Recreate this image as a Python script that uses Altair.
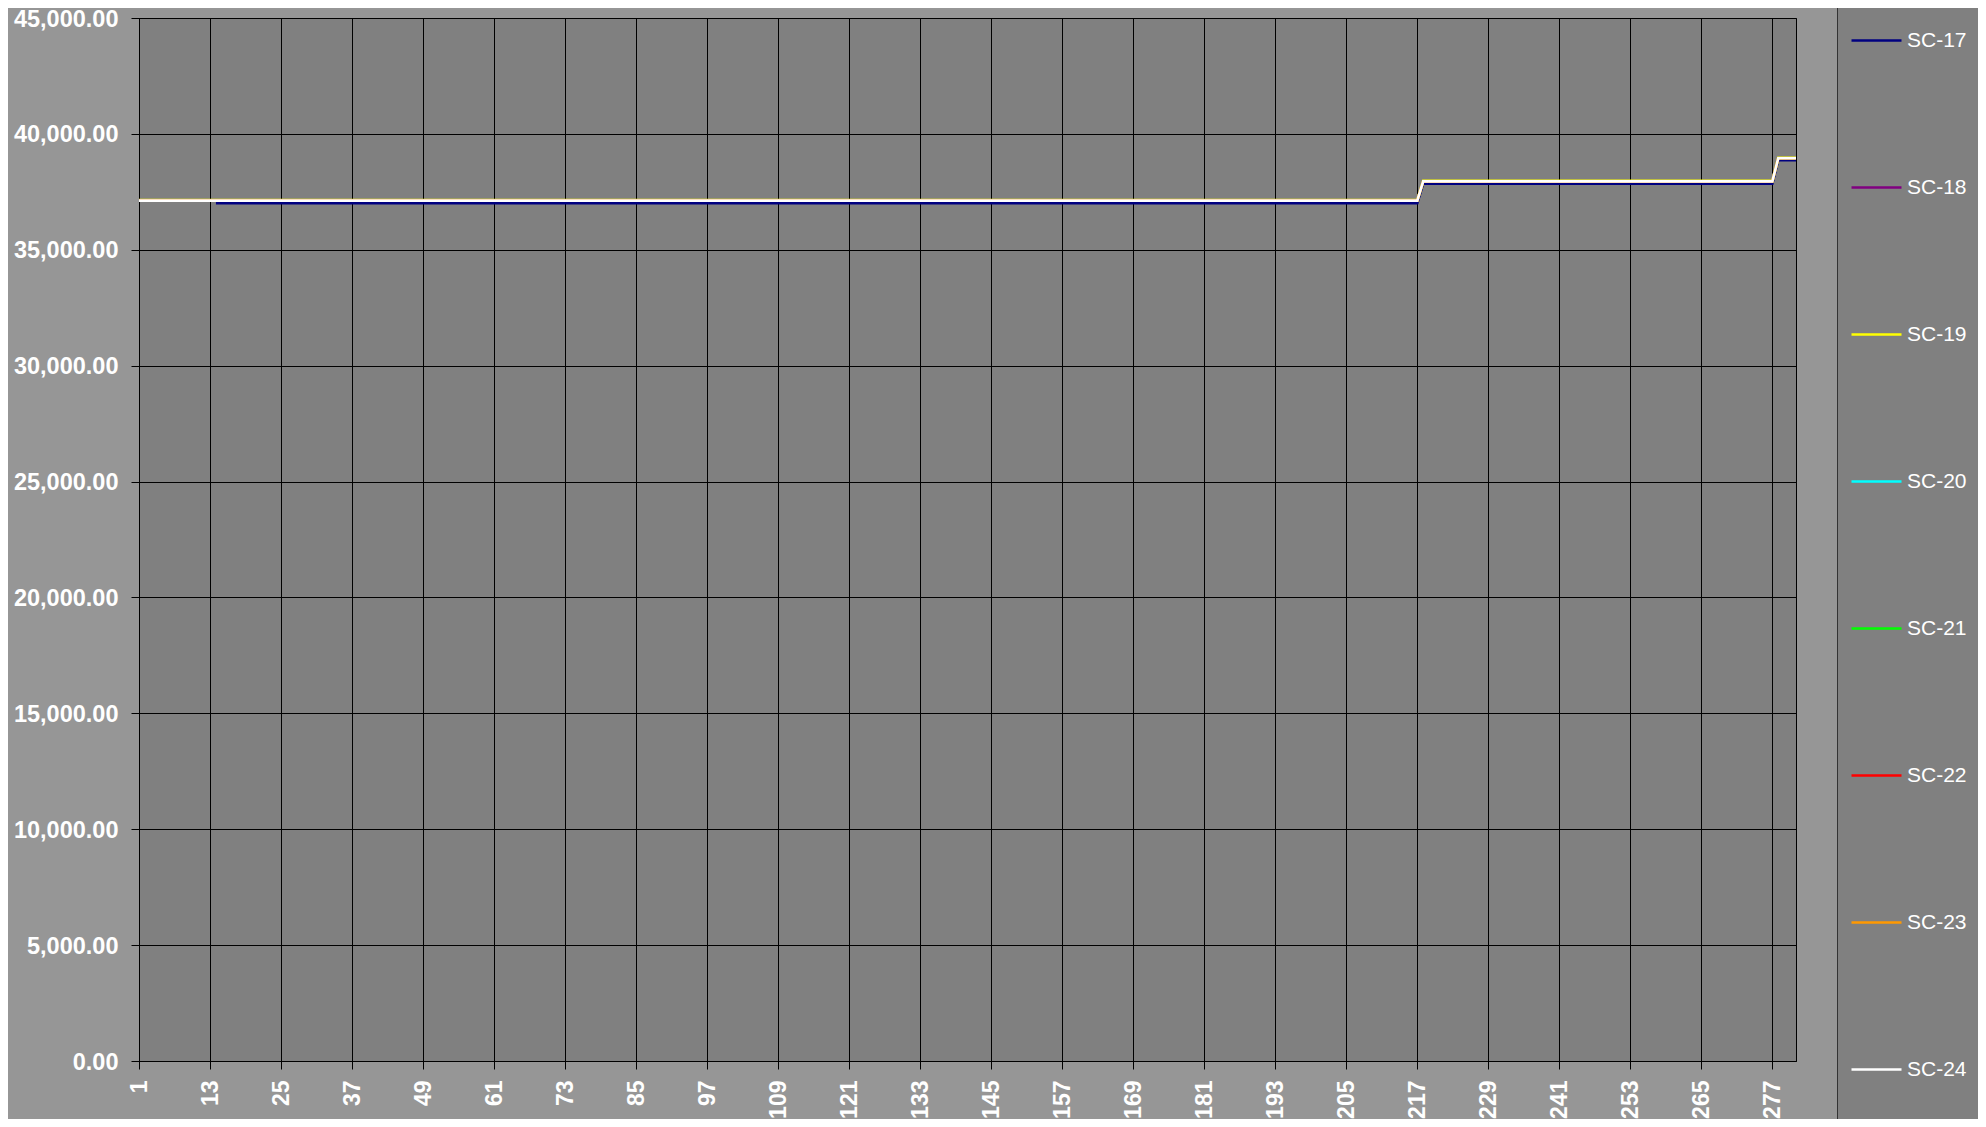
import altair as alt
import pandas as pd

# ---- data ----
series_names = ["SC-17", "SC-18", "SC-19", "SC-20", "SC-21", "SC-22", "SC-23", "SC-24"]
series_colors = ["#000080", "#800080", "#FFFF00", "#00FFFF", "#00FF00", "#FF0000", "#FF9900", "#FFFFFF"]

# break points of the step-shaped series (x = sample index)
x_main = [1, 217, 218, 277, 278, 281]
x_sc17 = [14, 217, 218, 277, 278, 281]

sc17 = [37010, 37010, 37850, 37850, 38870, 38870]
sc18 = [37120, 37120, 37950, 37950, 38950, 38950]
sc19 = [37140, 37140, 37970, 37970, 38970, 38970]
sc20 = [37120, 37120, 37950, 37950, 38950, 38950]
sc21 = [37120, 37120, 37950, 37950, 38950, 38950]
sc22 = [37120, 37120, 37950, 37950, 38950, 38950]
sc23 = [37120, 37120, 37950, 37950, 38950, 38950]
sc24 = [37120, 37120, 37950, 37950, 38950, 38950]

x_ticks = [1, 13, 25, 37, 49, 61, 73, 85, 97, 109, 121, 133, 145, 157, 169,
           181, 193, 205, 217, 229, 241, 253, 265, 277]
y_ticks = [0, 5000, 10000, 15000, 20000, 25000, 30000, 35000, 40000, 45000]

series_values = [sc17, sc18, sc19, sc20, sc21, sc22, sc23, sc24]
series_x = [x_sc17] + [x_main] * 7

rows = []
for name, xs, ys in zip(series_names, series_x, series_values):
    for xv, yv in zip(xs, ys):
        rows.append({"idx": xv, "value": yv, "series": name})
df = pd.DataFrame(rows)

FONT = "Liberation Sans"

chart = (
    alt.Chart(df)
    .mark_line(strokeWidth=2.7, strokeJoin="miter")
    .encode(
        x=alt.X(
            "idx:Q",
            scale=alt.Scale(domain=[1, 281], nice=False, zero=False),
            axis=alt.Axis(
                values=x_ticks,
                title=None,
                labelAngle=270,
                labelFontSize=23,
                labelFontWeight="bold",
                labelColor="white",
                labelPadding=11,
                labelFlush=False,
                labelOverlap=False,
                tickSize=8,
                tickColor="black",
                domainColor="black",
                gridColor="black",
                gridWidth=1,
            ),
        ),
        y=alt.Y(
            "value:Q",
            scale=alt.Scale(domain=[0, 45000], nice=False),
            axis=alt.Axis(
                values=y_ticks,
                format=",.2f",
                title=None,
                labelFontSize=23.5,
                labelFontWeight="bold",
                labelColor="white",
                labelPadding=13,
                labelOffset=1,
                labelFlush=False,
                labelOverlap=False,
                tickSize=8,
                tickColor="black",
                domainColor="black",
                gridColor="black",
                gridWidth=1,
            ),
        ),
        color=alt.Color(
            "series:N",
            scale=alt.Scale(domain=series_names, range=series_colors),
            sort=series_names,
            legend=alt.Legend(
                title=" ",
                titleOrient="bottom",
                titleFontSize=1,
                titlePadding=40,
                orient="none",
                legendX=1698,
                legendY=-17,
                symbolType="stroke",
                symbolSize=2500,
                symbolStrokeWidth=2.5,
                labelFontSize=21,
                labelColor="white",
                labelFont=FONT,
                labelOffset=4,
                rowPadding=110,
                padding=13,
                fillColor="#808080",
                strokeColor="#333333",
                labelLimit=200,
            ),
        ),
        order=alt.Order("idx:Q"),
    )
    .properties(
        width=1657,
        height=1043,
        background="#969696",
        padding={"left": 131, "top": 10, "right": 182, "bottom": 58},
        autosize=alt.AutoSizeParams(type="none"),
    )
    .configure(font=FONT)
    .configure_view(fill="#808080", stroke="black", strokeWidth=1)
    .configure_axis(labelFont=FONT, domainWidth=1, tickWidth=1)
)

chart.save("out.html", embed_options={"renderer": "svg", "actions": False})
